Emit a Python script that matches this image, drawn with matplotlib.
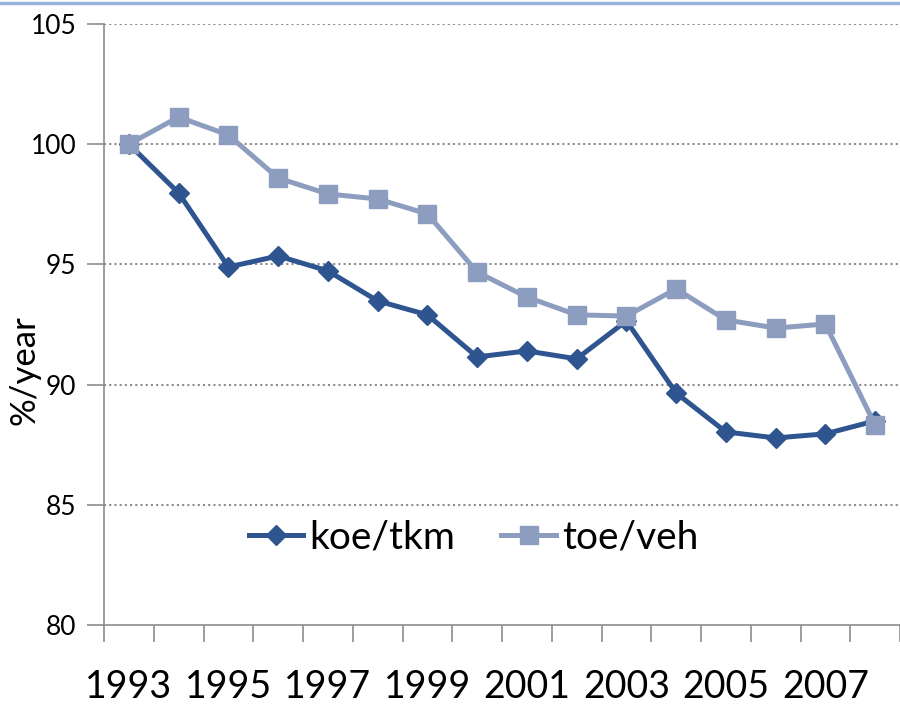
import matplotlib.pyplot as plt
import matplotlib.lines as mlines
import numpy as np

plt.rcParams['font.family'] = ['Lato', 'DejaVu Sans']

years = np.arange(1993, 2009)
koe_tkm = [100.0, 97.97, 94.89, 95.35, 94.73, 93.48, 92.9, 91.15,
           91.4, 91.07, 92.65, 89.65, 88.03, 87.78, 87.95, 88.49]
toe_veh = [100.0, 101.13, 100.38, 98.59, 97.93, 97.72, 97.1, 94.68,
           93.64, 92.9, 92.85, 93.98, 92.69, 92.35, 92.52, 88.32]
label_years = [1993, 1995, 1997, 1999, 2001, 2003, 2005, 2007]

dark = '#2F5590'
light = '#8C9DBF'

fig = plt.figure(figsize=(9, 7.09), dpi=100)
ax = fig.add_axes([0.1156, 0.1185, 0.8844, 0.8477])

ax.plot(years, koe_tkm, color=dark, lw=3.6, marker='D', ms=10, label='koe/tkm')
ax.plot(years, toe_veh, color=light, lw=3.6, marker='s', ms=13, label='toe/veh')

ax.set_xlim(1992.5, 2008.5)
ax.set_ylim(80, 105)
ax.set_yticks([80, 85, 90, 95, 100, 105])
ax.tick_params(axis='y', labelsize=19, length=12, color='#8c8c8c', width=1.2, pad=8)

# tick marks between categories, labels on every other year
ax.set_xticks(np.arange(1992.5, 2009, 1))
ax.set_xticklabels([])
ax.set_xticks(label_years, minor=True)
ax.set_xticklabels([str(y) for y in label_years], minor=True, fontsize=27)
ax.tick_params(axis='x', which='major', length=12, color='#8c8c8c', width=1.2)
ax.tick_params(axis='x', which='minor', length=0, pad=32)

for y in [85, 90, 95, 100, 105]:
    ax.axhline(y, color='#8c8c8c', lw=1.5, ls=(0, (1, 1.5)), zorder=0)

for s in ['top', 'right']:
    ax.spines[s].set_visible(False)
for s in ['left', 'bottom']:
    ax.spines[s].set_color('#8c8c8c')
    ax.spines[s].set_linewidth(1.2)

fig.text(25 / 900, 1 - 370 / 709, '%/year', rotation=90, fontsize=25,
         ha='center', va='center')

ax.legend(loc='center', bbox_to_anchor=(0.464, 0.146), ncol=2, frameon=False,
          fontsize=28, handlelength=1.4, columnspacing=1.2, handletextpad=0.15)

fig.add_artist(mlines.Line2D([0, 1], [0.996, 0.996], color='#95B3D7', lw=2.5,
                             transform=fig.transFigure))

fig.savefig('out.png', dpi=100)
